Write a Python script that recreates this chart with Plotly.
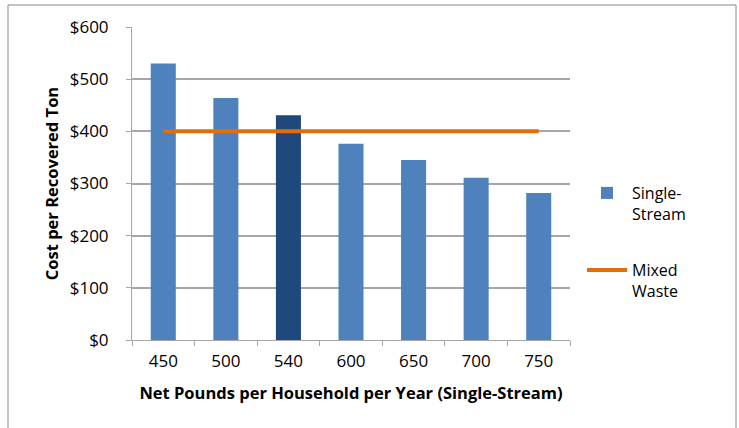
import plotly.graph_objects as go

# Net pounds per household per year (single-stream)
pounds = ["450", "500", "540", "600", "650", "700", "750"]
# Cost per recovered ton, single-stream collection ($)
single_stream_cost = [530, 464, 431, 376, 345, 311, 282]
# Cost per recovered ton, mixed-waste processing ($)
mixed_waste_cost = [400, 400, 400, 400, 400, 400, 400]
highlight_category = "540"

BAR_BLUE = "#4F81BD"
BAR_DARK = "#1F497D"
LINE_ORANGE = "#E46C0A"
GRID = "#A6A6A6"
FONT = "Open Sans"

W, H = 739, 428
L, R, T, B = 132, 169, 27, 88
plot_w = W - L - R
plot_h = H - T - B


def px_x(x):
    return (x - L) / plot_w


def px_y(y):
    return (H - B - y) / plot_h


bar_colors = [BAR_DARK if c == highlight_category else BAR_BLUE for c in pounds]

fig = go.Figure()
fig.add_trace(go.Bar(
    x=pounds, y=single_stream_cost,
    name="Single-<br>Stream",
    marker=dict(color=bar_colors, line=dict(width=0)),
    legend="legend", showlegend=True,
))
fig.add_trace(go.Scatter(
    x=pounds, y=mixed_waste_cost,
    name="Mixed<br>Waste",
    mode="lines",
    line=dict(color=LINE_ORANGE, width=4),
    legend="legend2", showlegend=True,
))

# Outer chart frame
fig.add_shape(
    type="rect", xref="paper", yref="paper",
    x0=px_x(8), x1=px_x(736), y0=px_y(450), y1=px_y(5),
    line=dict(color="#888888", width=1), fillcolor="rgba(0,0,0,0)",
    layer="below",
)

legend_common = dict(
    font=dict(family=FONT, size=16, color="#000000"),
    bgcolor="rgba(0,0,0,0)", borderwidth=0,
    xanchor="left", yanchor="top", itemwidth=40, valign="top",
)

fig.update_layout(
    width=W, height=H,
    margin=dict(l=L, r=R, t=T, b=B),
    paper_bgcolor="white", plot_bgcolor="white",
    font=dict(family=FONT, size=16, color="#000000"),
    showlegend=True,
    bargap=0.6,
    legend=dict(x=px_x(582), y=px_y(176), **legend_common),
    legend2=dict(x=px_x(582), y=px_y(253), **legend_common),
    xaxis=dict(
        type="category",
        title=dict(text="<b>Net Pounds per Household per Year (Single-Stream)</b>",
                   font=dict(family=FONT, size=16.5), standoff=16),
        showline=True, linecolor=GRID, linewidth=1,
        ticks="outside", ticklen=5, tickcolor=GRID, tickson="boundaries",
        tickfont=dict(family=FONT, size=17), ticklabelstandoff=6,
        showgrid=False,
    ),
    yaxis=dict(
        range=[0, 600], dtick=100, tickprefix="$",
        title=dict(text="<b>Cost per Recovered Ton</b>",
                   font=dict(family=FONT, size=16.5), standoff=6),
        showline=True, linecolor=GRID, linewidth=1,
        ticks="outside", ticklen=5, tickcolor=GRID,
        showgrid=True, gridcolor=GRID, gridwidth=1.5,
        tickfont=dict(family=FONT, size=17), ticklabelstandoff=14,
        zeroline=False,
    ),
)

fig.write_html("out.html")
